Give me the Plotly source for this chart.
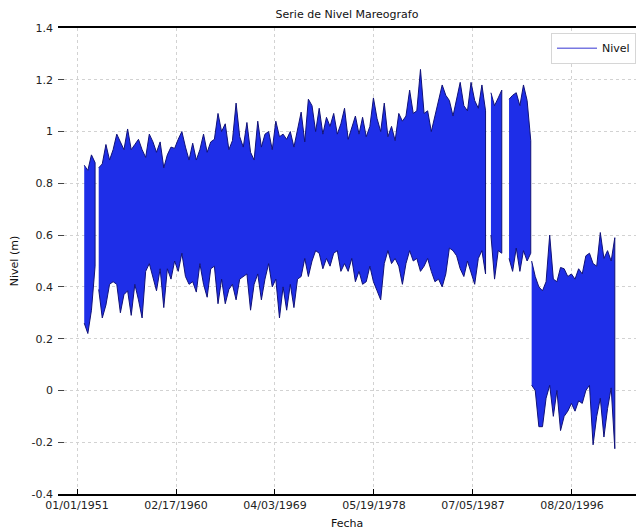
import pandas as pd
import plotly.graph_objects as go

# Tide-gauge record: upper and lower envelope of the hourly level (m),
# one value every four months, split where the record has gaps.
SEG_A_START = "1951-09-01"
SEG_A_TOP = [0.87, 0.85, 0.91, 0.88]
SEG_A_BOT = [0.26, 0.22, 0.31, 0.48]

SEG_B_START = "1953-01-01"
SEG_B_TOP = [
    0.86, 0.875, 0.95, 0.89, 0.93, 0.99, 0.96, 0.93, 1.01, 0.93,
    0.95, 0.97, 0.93, 0.90, 0.99, 0.96, 0.92, 0.96, 0.86, 0.91,
    0.94, 0.935, 0.97, 1.00, 0.94, 0.89, 0.955, 0.89, 0.93, 0.99,
    0.92, 0.96, 0.97, 1.07, 1.00, 1.03, 0.93, 0.965, 1.11, 0.98,
    0.94, 1.035, 0.92, 0.89, 1.04, 0.94, 0.99, 1.00, 0.93, 1.04,
    0.98, 0.99, 0.97, 1.00, 0.94, 1.01, 1.075, 0.96, 1.125, 1.10,
    1.00, 1.09, 0.99, 1.055, 1.02, 1.07, 0.99, 1.03, 1.09, 0.97,
    1.02, 1.06, 0.99, 1.055, 0.98, 1.02, 1.13, 1.05, 1.00, 1.11,
    0.98, 1.02, 0.965, 1.07, 1.04, 1.06, 1.16, 1.07, 1.08, 1.24,
    1.07, 1.08, 1.00, 1.06, 1.11, 1.18, 1.14, 1.12, 1.06, 1.12,
    1.19, 1.10, 1.08, 1.19, 1.12, 1.09, 1.18, 1.08,
]
SEG_B_BOT = [
    0.39, 0.28, 0.33, 0.41, 0.42, 0.41, 0.30, 0.37, 0.385, 0.29,
    0.41, 0.35, 0.28, 0.46, 0.49, 0.44, 0.385, 0.47, 0.32, 0.47,
    0.43, 0.50, 0.46, 0.53, 0.44, 0.41, 0.42, 0.38, 0.49, 0.41,
    0.36, 0.47, 0.48, 0.335, 0.43, 0.335, 0.39, 0.41, 0.35, 0.43,
    0.44, 0.45, 0.31, 0.41, 0.45, 0.35, 0.43, 0.49, 0.40, 0.43,
    0.28, 0.40, 0.31, 0.41, 0.32, 0.43, 0.44, 0.51, 0.44, 0.50,
    0.54, 0.53, 0.47, 0.51, 0.48, 0.53, 0.54, 0.46, 0.49, 0.46,
    0.51, 0.42, 0.46, 0.41, 0.42, 0.48, 0.42, 0.385, 0.35, 0.49,
    0.54, 0.49, 0.51, 0.48, 0.41, 0.49, 0.54, 0.50, 0.51, 0.46,
    0.48, 0.51, 0.46, 0.42, 0.43, 0.40, 0.45, 0.55, 0.54, 0.52,
    0.47, 0.44, 0.50, 0.46, 0.41, 0.51, 0.54, 0.45,
]

SEG_C_START = "1989-03-01"
SEG_C_TOP = [1.15, 1.10, 1.13, 1.16]
SEG_C_BOT = [0.60, 0.43, 0.54, 0.53]

SEG_D_START = "1990-11-01"
SEG_D_TOP = [1.125, 1.14, 1.15, 1.10, 1.18, 1.12, 0.965]
SEG_D_BOT = [0.51, 0.46, 0.55, 0.46, 0.54, 0.50, 0.53]

SEG_E_START = "1992-12-01"
SEG_E_TOP = [
    0.50, 0.44, 0.40, 0.385, 0.42, 0.60, 0.43, 0.42, 0.475, 0.47,
    0.44, 0.45, 0.43, 0.47, 0.45, 0.52, 0.53, 0.49, 0.48, 0.61,
    0.51, 0.54, 0.50, 0.59,
]
SEG_E_BOT = [
    0.02, 0.00, -0.14, -0.14, -0.03, 0.02, -0.10, 0.00, -0.155, -0.10,
    -0.08, -0.05, -0.08, -0.04, -0.05, 0.00, 0.02, -0.21, -0.10, -0.03,
    -0.18, -0.07, 0.01, -0.225,
]

SEGMENTS = [
    (SEG_A_START, SEG_A_TOP, SEG_A_BOT),
    (SEG_B_START, SEG_B_TOP, SEG_B_BOT),
    (SEG_C_START, SEG_C_TOP, SEG_C_BOT),
    (SEG_D_START, SEG_D_TOP, SEG_D_BOT),
    (SEG_E_START, SEG_E_TOP, SEG_E_BOT),
]

X_TICK_DATES = ["1951-01-01", "1960-02-17", "1969-04-03",
                "1978-05-19", "1987-07-05", "1996-08-20"]
X_TICK_TEXT = ["01/01/1951", "02/17/1960", "04/03/1969",
               "05/19/1978", "07/05/1987", "08/20/1996"]
Y_TICKS = [-0.4, -0.2, 0, 0.2, 0.4, 0.6, 0.8, 1, 1.2, 1.4]
Y_TICK_TEXT = ["-0.4", "-0.2", "0", "0.2", "0.4", "0.6", "0.8", "1", "1.2", "1.4"]

BLUE = "rgb(30,46,232)"
EDGE = "rgb(16,18,120)"
FONT = "DejaVu Sans, Verdana, sans-serif"

# Closed polygons (upper envelope forward, lower envelope back) per segment
poly_x, poly_y = [], []
for start, top, bot in SEGMENTS:
    dates = list(pd.date_range(start, periods=len(top), freq="4MS"))
    poly_x += dates + dates[::-1] + [None]
    poly_y += list(top) + list(bot)[::-1] + [None]

fig = go.Figure()
fig.add_trace(go.Scatter(
    x=poly_x, y=poly_y, mode="lines", fill="toself",
    fillcolor=BLUE, line=dict(color=EDGE, width=1),
    showlegend=False, hoverinfo="skip",
))
fig.add_trace(go.Scatter(
    x=[None], y=[None], mode="lines", name="Nivel",
    line=dict(color="rgb(120,120,225)", width=1.5),
))

fig.update_layout(
    width=636, height=531,
    margin=dict(l=58, r=0, t=28, b=37),
    paper_bgcolor="white", plot_bgcolor="white",
    font=dict(family=FONT, size=11, color="#222"),
    title=dict(text="Serie de Nivel Mareografo", x=(58 + 578 / 2) / 636,
               xref="container", xanchor="center",
               y=1 - 14 / 531, yanchor="middle",
               font=dict(size=11, color="#111")),
    legend=dict(x=1, xanchor="right", y=0.99, yanchor="top",
                bgcolor="white", bordercolor="#d6d6d6", borderwidth=1,
                font=dict(size=11, color="#111"), itemwidth=40),
    showlegend=True,
)

fig.update_xaxes(
    type="date", range=["1949-04-01", "2002-07-16"],
    tickvals=X_TICK_DATES, ticktext=X_TICK_TEXT,
    showgrid=True, gridcolor="#d2d2d2", griddash="dot", gridwidth=1,
    showline=True, mirror=True, linecolor="black", linewidth=1.5,
    ticks="inside", ticklen=5, tickcolor="black",
    tickfont=dict(size=11, color="#222"), zeroline=False,
)
fig.update_yaxes(
    range=[-0.4, 1.4], tickvals=Y_TICKS, ticktext=Y_TICK_TEXT,
    showgrid=True, gridcolor="#d2d2d2", griddash="dot", gridwidth=1,
    showline=False, zeroline=False,
    ticks="inside", ticklen=6, tickcolor="#444",
    ticklabelstandoff=4,
    tickfont=dict(size=11, color="#222"),
    title=dict(text="Nivel (m)", font=dict(size=11, color="#111"), standoff=10),
)

fig.add_annotation(
    text="Fecha", xref="paper", yref="paper",
    x=0.5, y=-29 / 466, xanchor="center", yanchor="middle",
    showarrow=False, font=dict(size=11, color="#111"),
)

fig.write_html("out.html")
